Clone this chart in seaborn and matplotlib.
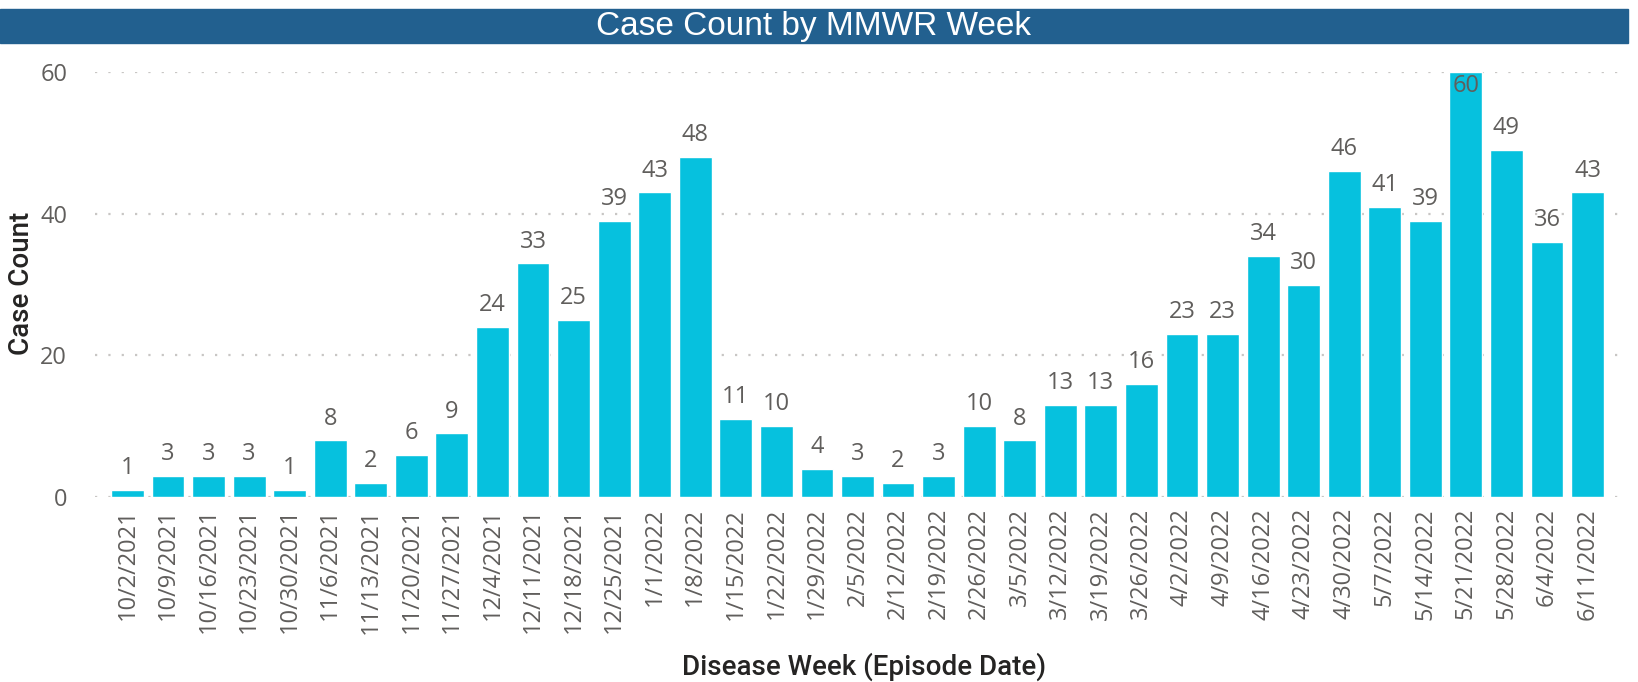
import matplotlib
matplotlib.use("Agg")
import matplotlib.pyplot as plt
import seaborn as sns
from matplotlib.patches import Rectangle

# data
weeks = ["10/2/2021", "10/9/2021", "10/16/2021", "10/23/2021", "10/30/2021",
         "11/6/2021", "11/13/2021", "11/20/2021", "11/27/2021", "12/4/2021",
         "12/11/2021", "12/18/2021", "12/25/2021", "1/1/2022", "1/8/2022",
         "1/15/2022", "1/22/2022", "1/29/2022", "2/5/2022", "2/12/2022",
         "2/19/2022", "2/26/2022", "3/5/2022", "3/12/2022", "3/19/2022",
         "3/26/2022", "4/2/2022", "4/9/2022", "4/16/2022", "4/23/2022",
         "4/30/2022", "5/7/2022", "5/14/2022", "5/21/2022", "5/28/2022",
         "6/4/2022", "6/11/2022"]
counts = [1, 3, 3, 3, 1, 8, 2, 6, 9, 24, 33, 25, 39, 43, 48, 11, 10, 4, 3, 2,
          3, 10, 8, 13, 13, 16, 23, 23, 34, 30, 46, 41, 39, 60, 49, 36, 43]
yticks = [0, 20, 40, 60]

sns.set_theme(style="white")
plt.rcParams["font.family"] = ["Open Sans", "DejaVu Sans"]

W, H = 1638, 682
fig = plt.figure(figsize=(W / 100, H / 100), dpi=100)
ax = fig.add_axes([95 / W, 185 / H, 1525 / W, 425 / H])

sns.barplot(x=weeks, y=counts, color="#06C1DE", saturation=1, width=0.81, ax=ax)

ax.set_xlim(-0.8, len(weeks) - 0.2)
ax.set_ylim(0, 60)
ax.set_yticks(yticks)
ax.yaxis.grid(True, linestyle=(0, (1, 5)), color="#C8C6C4", linewidth=1.6)
ax.set_axisbelow(True)
sns.despine(ax=ax, left=True, bottom=True)

ax.tick_params(axis="y", length=0, pad=20, labelsize=17, labelcolor="#605E5C")
ax.tick_params(axis="x", length=0, pad=8, labelsize=17, labelcolor="#605E5C",
               rotation=90)
ax.set_xlabel("")
ax.set_ylabel("")

# data labels: above the bars, the tallest one inside
top = max(counts)
labels_out = ["" if c == top else str(c) for c in counts]
labels_in = [str(c) if c == top else "" for c in counts]
ax.bar_label(ax.containers[0], labels=labels_out, padding=7, fontsize=17,
             color="#605E5C")
ax.bar_label(ax.containers[0], labels=labels_in, padding=-19, fontsize=17,
             color="#605E5C")

# axis titles
fig.text(22 / W, 1 - 283 / H, "Case Count", rotation=90, ha="center",
         va="center", fontsize=20, color="#252423", family="Roboto",
         fontweight="medium")
fig.text(864 / W, 1 - 667 / H, "Disease Week (Episode Date)", ha="center",
         va="center", fontsize=20, color="#252423", family="Roboto",
         fontweight="medium")

# title banner
fig.patches.append(Rectangle((0, 1 - 43 / H), 1628 / W, 34 / H,
                             transform=fig.transFigure, color="#22608F",
                             zorder=0))
fig.text(814 / W, 1 - 26 / H, "Case Count by MMWR Week", ha="center",
         va="center", fontsize=24, color="white", family="Liberation Sans")

fig.savefig("out.png", dpi=100)
